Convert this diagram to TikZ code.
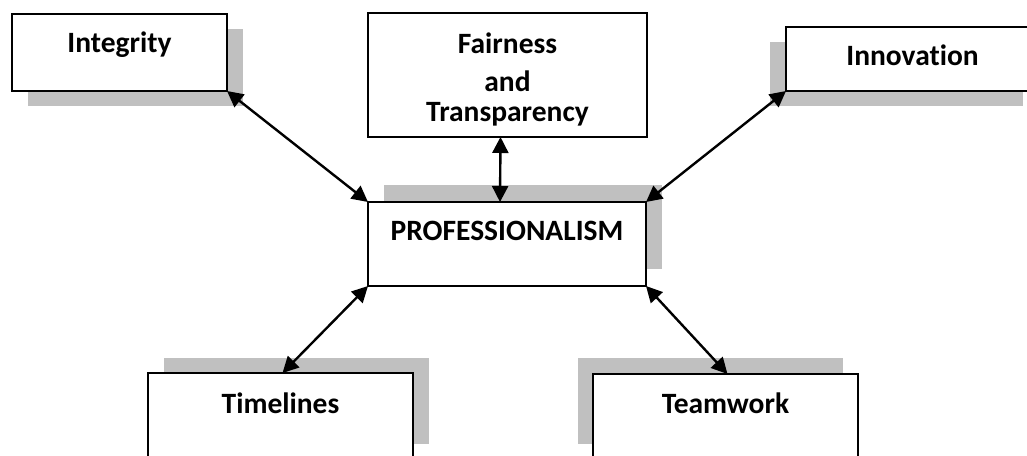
\documentclass[tikz,border=0pt]{standalone}
\usepackage{fontspec}
\setmainfont[Ligatures=NoCommon]{Carlito}
\usetikzlibrary{arrows.meta,backgrounds}
\definecolor{shadowgray}{HTML}{C0C0C0}
\tikzset{
  box/.style={draw=black, line width=2.8pt, fill=white, inner sep=0pt, outer sep=0pt, anchor=north west},
  lbl/.style={font=\fontsize{29.5}{35}\selectfont\bfseries, inner sep=0pt, outer sep=0pt, anchor=base},
  link/.style={line width=2.4pt, {Triangle[length=16pt,width=16pt]}-{Triangle[length=16pt,width=16pt]}},
  shadowbox/.style={fill=shadowgray, draw=none},
}
% gray drop shadow of a box, shifted by (dx,dy)
\newcommand{\dropshadow}[3]{%
  \fill[shadowbox] ([shift={(#2,#3)}]#1.north west) rectangle ([shift={(#2,#3)}]#1.south east);}
\begin{document}
\begin{tikzpicture}[x=1pt,y=-1pt]
\path[use as bounding box, clip] (0,0) rectangle (1027,455);

% boxes
\node[box, minimum width=215pt, minimum height=77pt]  (integrity) at (12,14)  {};
\node[box, minimum width=279pt, minimum height=124pt] (fair)      at (368,13) {};
\node[box, minimum width=253pt, minimum height=64pt]  (innov)     at (786,27) {};
\node[box, minimum width=278pt, minimum height=84pt]  (prof)      at (368,202) {};
\node[box, minimum width=265pt, minimum height=86pt]  (time)      at (148,373) {};
\node[box, minimum width=265pt, minimum height=86pt]  (team)      at (593,374) {};

% shadows behind the boxes
\begin{scope}[on background layer]
  \dropshadow{integrity}{16}{15}
  \dropshadow{innov}{-16}{15}
  \dropshadow{prof}{16}{-17}
  \dropshadow{time}{16}{-15}
  \dropshadow{team}{-15}{-16}
\end{scope}

% labels
\node[lbl] (integritytxt) at ([yshift=-38pt]integrity.north) {Integrity};
\node[lbl] (fairtxta) at ([yshift=-40pt]fair.north) {Fairness};
\node[lbl] (fairtxtb) at ([yshift=-78pt]fair.north) {and};
\node[lbl] (fairtxtc) at ([yshift=-108pt]fair.north) {Transparency};
\node[lbl] (innovtxt) at ([yshift=-38pt]innov.north) {Innovation};
\node[lbl] (proftxt) at ([yshift=-38pt]prof.north) {PROFESSIONALISM};
\node[lbl] (timetxt) at ([yshift=-40pt]time.north) {Timelines};
\node[lbl] (teamtxt) at ([yshift=-39pt]team.north) {Teamwork};

% connectors
\draw[link] (integrity.south east) -- (prof.north west);
\draw[link] ([xshift=-7pt]fair.south) -- ([xshift=-7pt]prof.north);
\draw[link] (innov.south west) -- (prof.north east);
\draw[link] (prof.south west) -- ([xshift=2pt]time.north);
\draw[link] (prof.south east) -- ([xshift=2pt]team.north);
\end{tikzpicture}
\end{document}
